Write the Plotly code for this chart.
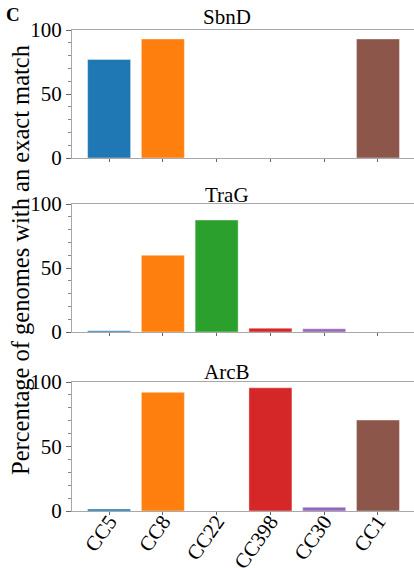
import plotly.graph_objects as go

categories = ["CC5", "CC8", "CC22", "CC398", "CC30", "CC1"]
colors = ["#1f77b4", "#ff7f0e", "#2ca02c", "#d62728", "#9467bd", "#8c564b"]
panel_titles = ["SbnD", "TraG", "ArcB"]
sbnd = [77, 93, 0, 0, 0, 93]
trag = [1, 60, 87.5, 3, 2.5, 0]
arcb = [1.5, 92, 0, 95.5, 3, 70.5]
series = [sbnd, trag, arcb]
ytickvals = [0, 50, 100]

W, H = 414, 568
FONT = "Liberation Serif"
GRAY = "#a8a8a8"

fig = go.Figure()
# pixel boxes (top, bottom) of each panel
boxes = [(30, 158), (204, 332), (382, 511)]
title_y = [17, 195, 372]
xdom = [72 / W, 1.0]

for i, vals in enumerate(series):
    n = "" if i == 0 else str(i + 1)
    fig.add_trace(go.Bar(
        x=categories, y=vals, marker=dict(color=colors, line=dict(color="rgba(255,255,255,0.5)", width=0.8)),
        width=0.8, xaxis="x" + n, yaxis="y" + n, showlegend=False, hoverinfo="skip"))
    top, bot = boxes[i]
    fig.layout["xaxis" + n] = dict(
        domain=xdom, anchor="y" + n, range=[-0.69, 5.67],
        showline=True, linecolor=GRAY, linewidth=1, mirror=True,
        ticks="outside", ticklen=3, tickcolor="#666", showgrid=False,
        showticklabels=(i == 2), tickangle=-55, ticklabelstandoff=-14,
        tickfont=dict(family=FONT, size=21, color="black"), automargin=False)
    fig.layout["yaxis" + n] = dict(
        domain=[1 - bot / H, 1 - top / H], anchor="x" + n, range=[0, 100],
        showline=True, linecolor=GRAY, linewidth=1,
        ticks="outside", ticklen=5, tickcolor="#666", tickvals=ytickvals,
        minor=dict(dtick=10, ticks="outside", ticklen=3, tickcolor="#888"),
        showgrid=False, zeroline=False,
        tickfont=dict(family=FONT, size=21, color="black"), automargin=False)
    fig.add_annotation(text=panel_titles[i], x=227 / W, y=1 - title_y[i] / H,
                       xref="paper", yref="paper", showarrow=False,
                       xanchor="center", yanchor="middle",
                       font=dict(family=FONT, size=21, color="black"))

fig.add_annotation(text="Percentage of genomes with an exact match", x=20 / W, y=1 - 260 / H,
                   xref="paper", yref="paper", showarrow=False, textangle=-90,
                   xanchor="center", yanchor="middle",
                   font=dict(family=FONT, size=24.5, color="black"))
fig.add_annotation(text="<b>C</b>", x=4 / W, y=1 - 2 / H, xref="paper", yref="paper",
                   showarrow=False, xanchor="left", yanchor="top",
                   font=dict(family=FONT, size=19, color="black"))

fig.update_layout(width=W, height=H, margin=dict(l=0, r=0, t=0, b=0),
                  plot_bgcolor="white", paper_bgcolor="white", bargap=0.2)
fig.write_html("out.html", config={"displayModeBar": False, "staticPlot": True},
               post_script="document.body.style.margin='0';document.body.style.overflow='hidden';")
